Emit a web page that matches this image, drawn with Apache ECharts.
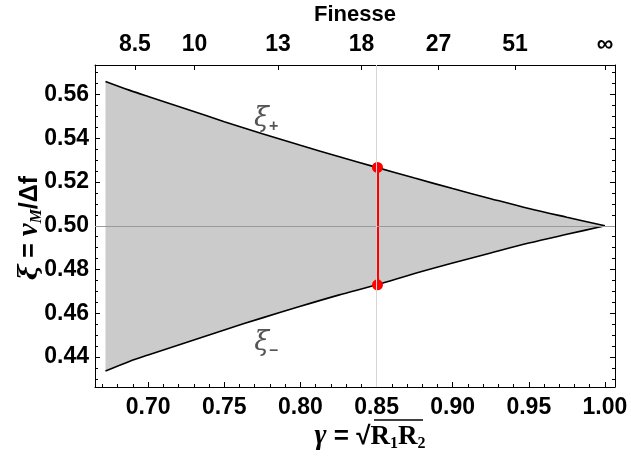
<!DOCTYPE html>
<html><head><meta charset="utf-8">
<script src="https://cdn.jsdelivr.net/npm/echarts@6/dist/echarts.min.js"></script>
<style>html,body{margin:0;padding:0;background:#fff}#c{width:631px;height:466px}</style>
</head><body><div id="c"></div>
<script>
// ---- data ----
const gamma   = [0.672, 0.688, 0.700, 0.725, 0.750, 0.775, 0.800, 0.825, 0.850, 0.875, 0.900, 0.925, 0.950, 0.975, 1.000];
const xiPlus  = [0.5660,0.5619,0.5591,0.5534,0.5476,0.5421,0.5368,0.5317,0.5267,0.5218,0.5170,0.5124,0.5079,0.5039,0.5000];
const xiMinus = [0.4336,0.4381,0.4409,0.4466,0.4524,0.4579,0.4632,0.4683,0.4730,0.4782,0.4830,0.4876,0.4921,0.4961,0.5000];
const markerGamma = 0.85;
const markerXi = [0.5267, 0.4730];
const refLineY = 0.5;
const refLineX = 0.85;
// ---- ticks ----
const xMajor = [0.70,0.75,0.80,0.85,0.90,0.95,1.00];
const xMinor = [0.67,0.68,0.69,0.71,0.72,0.73,0.74,0.76,0.77,0.78,0.79,0.81,0.82,0.83,0.84,0.86,0.87,0.88,0.89,0.91,0.92,0.93,0.94,0.96,0.97,0.98,0.99];
const yMajor = [0.44,0.46,0.48,0.50,0.52,0.54,0.56];
const yMinor = [0.43,0.435,0.445,0.45,0.455,0.465,0.47,0.475,0.485,0.49,0.495,0.505,0.51,0.515,0.525,0.53,0.535,0.545,0.55,0.555,0.565,0.57];
const finesseTicks  = [0.6913,0.7305,0.7853,0.8401,0.8907,0.9410,1.0];
const finesseLabels = ['8.5','10','13','18','27','51','\u221E'];
const xMin = 0.6651, xMax = 1.0066, yMin = 0.4263, yMax = 0.5735;

const chart = echarts.init(document.getElementById('c'), null, {renderer:'canvas'});
const lblFont = {fontFamily:'Liberation Sans', fontWeight:'bold', fontSize:23, color:'#000'};
function xAx(pos, ticks, len, showLine, label, fmt){
  return {type:'value', position:pos, min:xMin, max:xMax,
    axisLine:{show:showLine, onZero:false, lineStyle:{color:'#000', width:1}},
    axisTick:{show:true, inside:true, length:len, customValues:ticks, lineStyle:{color:'#000'}},
    axisLabel: label ? Object.assign({show:true, customValues:ticks, margin:9, formatter:fmt}, lblFont) : {show:false},
    splitLine:{show:false}};
}
function yAx(pos, ticks, len, showLine, label){
  return {type:'value', position:pos, min:yMin, max:yMax,
    axisLine:{show:showLine, onZero:false, lineStyle:{color:'#000', width:1}},
    axisTick:{show:true, inside:true, length:len, customValues:ticks, lineStyle:{color:'#000'}},
    axisLabel: label ? Object.assign({show:true, customValues:ticks, margin:6, formatter:v=>v.toFixed(2)}, lblFont) : {show:false},
    splitLine:{show:false}};
}
const nearestFin = v => { let b=0; finesseTicks.forEach((t,i)=>{ if(Math.abs(t-v)<Math.abs(finesseTicks[b]-v)) b=i; }); return finesseLabels[b]; };

const option = {
  animation:false,
  backgroundColor:'#fff',
  grid:{left:95, right:16, top:65, bottom:79},
  xAxis:[
    xAx('bottom', xMajor, 5, true, true, v=>v.toFixed(2)),
    xAx('top', finesseTicks, 5, true, true, nearestFin),
    xAx('bottom', xMinor, 3, false, false),
  ],
  yAxis:[
    yAx('left', yMajor, 5, true, true),
    yAx('right', yMajor, 5, true, false),
    yAx('left', yMinor, 3, false, false),
    yAx('right', yMinor, 3, false, false),
  ],
  series:[
    {type:'custom', name:'band', coordinateSystem:'cartesian2d', xAxisIndex:0, yAxisIndex:0,
      data:[[gamma[0], xiPlus[0]]], encode:{x:0, y:1}, z:1, silent:true,
      renderItem:(params, api)=>{
        const pts = gamma.map((g,i)=>api.coord([g, xiPlus[i]]));
        for(let i=gamma.length-1;i>=0;i--) pts.push(api.coord([gamma[i], xiMinus[i]]));
        return {type:'polygon', shape:{points:pts, smooth:0}, style:{fill:'#cbcbcb', stroke:null}};
      }},
    {type:'line', name:'ref', data:[], z:2, silent:true,
      markLine:{silent:true, symbol:'none', label:{show:false}, animation:false,
        data:[{yAxis:refLineY, lineStyle:{color:'#9a9a9a', width:1, type:'solid'}},
              {xAxis:refLineX, lineStyle:{color:'#d6d6d6', width:1, type:'solid'}}]}},
    {type:'line', name:'xi+', data:gamma.map((g,i)=>[g, xiPlus[i]]), symbol:'none', smooth:0.3, lineStyle:{color:'#000', width:1.6}, z:3},
    {type:'line', name:'xi-', data:gamma.map((g,i)=>[g, xiMinus[i]]), symbol:'none', smooth:0.3, lineStyle:{color:'#000', width:1.6}, z:3},
    {type:'custom', name:'segment', coordinateSystem:'cartesian2d', xAxisIndex:0, yAxisIndex:0,
      data:[[markerGamma, markerXi[0], markerXi[1]]], encode:{x:0, y:[1,2]}, z:4,
      renderItem:(params, api)=>{
        const a = api.coord([api.value(0), api.value(1)]);
        const b = api.coord([api.value(0), api.value(2)]);
        const cx = Math.round(a[0]);
        return {type:'group', children:[
          {type:'rect', shape:{x:cx-1, y:a[1], width:3, height:b[1]-a[1]}, style:{fill:'#ff0000'}},
          {type:'circle', shape:{cx:cx+0.5, cy:a[1], r:5.5}, style:{fill:'#ff0000'}},
          {type:'circle', shape:{cx:cx+0.5, cy:b[1], r:5.5}, style:{fill:'#ff0000'}}
        ]};
      }},
  ]
};
chart.setOption(option);

// annotations
const annPlus = chart.convertToPixel({xAxisIndex:0, yAxisIndex:0}, [0.7775, 0.5490]);
const annMinus = chart.convertToPixel({xAxisIndex:0, yAxisIndex:0}, [0.7775, 0.4465]);
function xiLabel(p, sub){
  return {type:'text', x:p[0], y:p[1], z:10, style:{
    text:'{a|\u03BE}{s|'+sub+'}', align:'center', verticalAlign:'middle',
    rich:{a:{fontFamily:'DejaVu Serif', fontStyle:'italic', fontSize:27, fill:'#555'},
          s:{fontFamily:'Liberation Sans', fontWeight:'bold', fontSize:16, fill:'#555', padding:[16,0,0,0]}}}};
}
chart.setOption({graphic:[
  xiLabel(annPlus, '+'),
  xiLabel(annMinus, '\u2013'),
  {type:'text', x:355, y:15, style:{text:'Finesse', align:'center', verticalAlign:'middle', font:'bold 22px "Liberation Sans"', fill:'#000'}},
  {type:'text', x:370, y:437, style:{
    text:'{g|\u03B3}{e| = \u221A}{r|R}{n|1}{r|R}{n|2}', align:'center', verticalAlign:'middle',
    rich:{g:{fontFamily:'Liberation Serif', fontStyle:'italic', fontWeight:'bold', fontSize:29, fill:'#000'},
          e:{fontFamily:'Liberation Sans', fontWeight:'bold', fontSize:26, fill:'#000'},
          r:{fontFamily:'Liberation Serif', fontWeight:'bold', fontSize:27, fill:'#000'},
          n:{fontFamily:'Liberation Serif', fontWeight:'bold', fontSize:16, fill:'#000', padding:[13,0,0,0]}}}},
  {type:'line', shape:{x1:374, y1:420, x2:423, y2:420}, style:{stroke:'#000', lineWidth:1.5}},
  {type:'text', x:30, y:228, rotation:Math.PI/2, style:{
    text:'{x|\u03BE}{e| = }{v|\u03BD}{m|M}{e|/\u0394f}', align:'center', verticalAlign:'middle',
    rich:{x:{fontFamily:'DejaVu Serif', fontStyle:'italic', fontWeight:'bold', fontSize:26, fill:'#000'},
          e:{fontFamily:'Liberation Sans', fontWeight:'bold', fontSize:25, fill:'#000'},
          v:{fontFamily:'Liberation Serif', fontStyle:'italic', fontWeight:'bold', fontSize:29, fill:'#000'},
          m:{fontFamily:'Liberation Serif', fontStyle:'italic', fontWeight:'bold', fontSize:16, fill:'#000', padding:[13,0,0,0]}}}},
]});
</script></body></html>
